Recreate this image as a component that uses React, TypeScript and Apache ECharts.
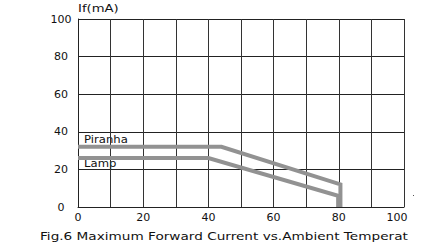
import React, { useEffect, useRef } from "react";
import * as echarts from "echarts";

const xTicks = [0, 20, 40, 60, 80, 100];
const yTicks = [0, 20, 40, 60, 80, 100];
const piranha: [number, number][] = [[0, 32], [44, 32], [80.5, 12], [80.5, 0]];
const lamp: [number, number][] = [[0, 26], [40, 26], [79.8, 6], [79.8, 0]];
const seriesNames = ["Piranha", "Lamp"];
const yName = "If(mA)";
const title = "Fig.6 Maximum Forward Current vs.Ambient Temperat";

export default function App() {
  const ref = useRef<HTMLDivElement>(null);
  useEffect(() => {
    document.body.style.margin = "0";
    const chart = echarts.init(ref.current!, null, { renderer: "svg" });
    const font = "'DejaVu Sans', Verdana, sans-serif";
    chart.setOption({
      animation: false,
      backgroundColor: "#fff",
      grid: { left: 78, right: 24, top: 19, bottom: 42 },
      xAxis: {
        type: "value",
        min: 0,
        max: 100,
        interval: 10,
        axisLine: { show: true, lineStyle: { color: "#222", width: 1 } },
        axisTick: { show: false },
        splitLine: { show: true, lineStyle: { color: "#333", width: 1 } },
        axisLabel: {
          margin: 5,
          color: "#111",
          fontSize: 11,
          fontFamily: font,
          showMaxLabel: true,
          formatter: (v: number) =>
            v === 100 ? "{m|100}" : xTicks.includes(v) ? String(v) : "",
          rich: { m: { fontSize: 11, fontFamily: font, color: "#111", padding: [0, 14, 0, 0] } },
        },
      },
      yAxis: {
        type: "value",
        min: 0,
        max: 100,
        interval: 20,
        axisLine: { show: true, lineStyle: { color: "#222", width: 1 } },
        axisTick: { show: false },
        splitLine: { show: true, lineStyle: { color: "#222", width: 1 } },
        axisLabel: {
          margin: 17,
          align: "center",
          color: "#111",
          fontSize: 11,
          fontFamily: font,
          formatter: (v: number) => (yTicks.includes(v) ? String(v) : ""),
        },
      },
      series: [
        {
          name: seriesNames[0],
          type: "line",
          data: piranha,
          symbol: "none",
          lineStyle: { color: "#929292", width: 4, join: "miter" },
          z: 5,
        },
        {
          name: seriesNames[1],
          type: "line",
          data: lamp,
          symbol: "none",
          lineStyle: { color: "#929292", width: 4, join: "miter" },
          z: 5,
        },
      ],
      graphic: [
        {
          type: "text",
          x: 78,
          y: 8,
          scaleX: 1.2,
          style: { text: yName, font: "11px " + font, fill: "#111", verticalAlign: "middle" },
        },
        {
          type: "text",
          x: 84,
          y: 139.5,
          scaleX: 1.06,
          style: { text: seriesNames[0], font: "11px " + font, fill: "#111", verticalAlign: "middle" },
        },
        {
          type: "text",
          x: 84,
          y: 163.5,
          scaleX: 1.06,
          style: { text: seriesNames[1], font: "11px " + font, fill: "#111", verticalAlign: "middle" },
        },
        {
          type: "text",
          x: 40,
          y: 236,
          scaleX: 1.24,
          style: { text: title, font: "11px " + font, fill: "#111", verticalAlign: "middle" },
        },
        {
          type: "rect",
          shape: { x: 413, y: 195, width: 1, height: 1 },
          style: { fill: "#555" },
        },
      ],
    });
    return () => chart.dispose();
  }, []);
  return <div ref={ref} style={{ width: 428, height: 249 }} />;
}
